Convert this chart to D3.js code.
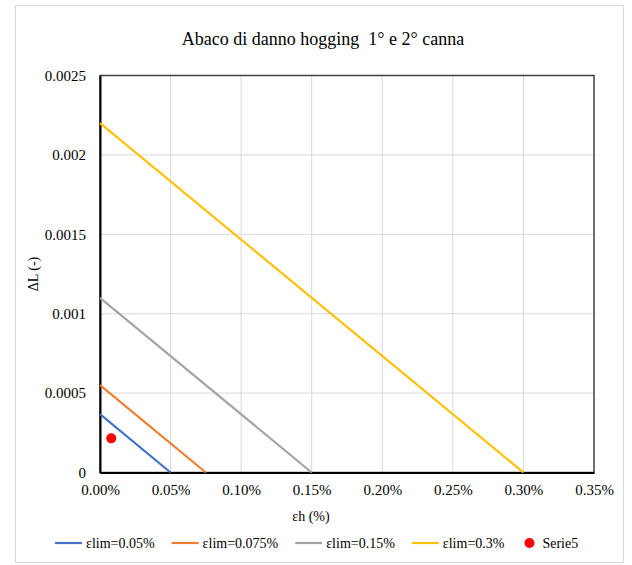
<!DOCTYPE html>
<html>
<head>
<meta charset="utf-8">
<script src="https://cdn.jsdelivr.net/npm/d3@7"></script>
<style>
  body { margin: 0; background: #fff; }
  svg text { font-family: "Liberation Serif", "Times New Roman", Times, "DejaVu Serif", serif; fill: #000; }
</style>
</head>
<body>
<svg width="632" height="565" font-family="Liberation Serif, DejaVu Serif, serif"></svg>
<script>
// chart data (x in %, y in -)
var seriesNames = ["εlim=0.05%", "εlim=0.075%", "εlim=0.15%", "εlim=0.3%"];
var seriesColors = ["#4472C4", "#ED7D31", "#A5A5A5", "#FFC000"];
var lim005 = [[0, 0.000367], [0.05, 0]];
var lim0075 = [[0, 0.00055], [0.075, 0]];
var lim015 = [[0, 0.0011], [0.15, 0]];
var lim03 = [[0, 0.0022], [0.3, 0]];
var serie5 = [[0.008, 0.000215]];
var xTicks = [0, 0.05, 0.10, 0.15, 0.20, 0.25, 0.30, 0.35];
var yTicks = [0, 0.0005, 0.001, 0.0015, 0.002, 0.0025];

var serifFont = "'Liberation Serif', 'Times New Roman', Times, 'DejaVu Serif', serif";
var svg = d3.select("svg");
var margin = { left: 100, right: 594, top: 75.5, bottom: 472.5 };

// outer chart border
svg.append("rect")
  .attr("x", 15.5).attr("y", 5.5)
  .attr("width", 608).attr("height", 557)
  .attr("fill", "#fff")
  .attr("stroke", "#d9d9d9")
  .attr("stroke-width", 1);

var x = d3.scaleLinear().domain([0, 0.35]).range([margin.left, margin.right]);
var y = d3.scaleLinear().domain([0, 0.0025]).range([margin.bottom, margin.top]);

// gridlines
svg.append("g").selectAll("line").data(xTicks.slice(1, -1)).enter()
  .append("line")
  .attr("x1", d => x(d)).attr("x2", d => x(d))
  .attr("y1", margin.top).attr("y2", margin.bottom)
  .attr("stroke", "#d9d9d9").attr("stroke-width", 1);
svg.append("g").selectAll("line").data(yTicks.slice(1, -1)).enter()
  .append("line")
  .attr("x1", margin.left).attr("x2", margin.right)
  .attr("y1", d => y(d)).attr("y2", d => y(d))
  .attr("stroke", "#d9d9d9").attr("stroke-width", 1);

// plot area frame
svg.append("rect")
  .attr("x", margin.left).attr("y", margin.top)
  .attr("width", margin.right - margin.left)
  .attr("height", margin.bottom - margin.top)
  .attr("fill", "none")
  .attr("stroke", "#404040")
  .attr("stroke-width", 1.5);

// axes
var xAxis = d3.axisBottom(x).tickValues(xTicks).tickSize(0).tickPadding(12)
  .tickFormat(d => d.toFixed(2) + "%");
var gx = svg.append("g").attr("transform", "translate(0," + margin.bottom + ")").call(xAxis)
  .attr("font-family", serifFont).attr("font-size", 15);
gx.select(".domain").attr("stroke", "#000").attr("stroke-width", 2);

var yAxis = d3.axisLeft(y).tickValues(yTicks).tickSize(0).tickPadding(14)
  .tickFormat(d => d === 0 ? "0" : String(+d.toPrecision(2)));
var gy = svg.append("g").attr("transform", "translate(" + margin.left + ",0)").call(yAxis)
  .attr("font-family", serifFont).attr("font-size", 15);
gy.select(".domain").attr("stroke", "#000").attr("stroke-width", 2);

// series lines
var line = d3.line().x(d => x(d[0])).y(d => y(d[1]));
var allSeries = [lim005, lim0075, lim015, lim03];
allSeries.forEach(function(s, i) {
  svg.append("path")
    .datum(s)
    .attr("d", line)
    .attr("fill", "none")
    .attr("stroke", seriesColors[i])
    .attr("stroke-width", 2.2);
});

svg.selectAll(".pt").data(serie5).enter()
  .append("circle")
  .attr("class", "pt")
  .attr("cx", d => x(d[0])).attr("cy", d => y(d[1]))
  .attr("r", 5).attr("fill", "#FF0000");

// titles
svg.append("text")
  .attr("x", 323).attr("y", 45)
  .attr("text-anchor", "middle")
  .attr("xml:space", "preserve")
  .style("font-size", "18px")
  .text("Abaco di danno hogging  1° e 2° canna");

svg.append("text")
  .attr("x", 311).attr("y", 521)
  .attr("text-anchor", "middle")
  .style("font-size", "14px")
  .text("εh (%)");

svg.append("text")
  .attr("transform", "translate(38," + y(0.00125) + ") rotate(-90)")
  .attr("text-anchor", "middle")
  .style("font-size", "14px")
  .text("ΔL (-)");

// legend
var legendItems = seriesNames.map((n, i) => ({ name: n, color: seriesColors[i], type: "line" }));
legendItems.push({ name: "Serie5", color: "#FF0000", type: "dot" });
var lg = svg.append("g");
var lx = 0;
legendItems.forEach(function(item) {
  var g = lg.append("g").attr("transform", "translate(" + lx + ",0)");
  if (item.type === "line") {
    g.append("line").attr("x1", 0).attr("x2", 27).attr("y1", 0).attr("y2", 0)
      .attr("stroke", item.color).attr("stroke-width", 2.2);
  } else {
    g.append("circle").attr("cx", 8).attr("cy", 0).attr("r", 5).attr("fill", item.color);
  }
  var t = g.append("text").attr("x", item.type === "line" ? 31 : 21).attr("y", 5)
    .style("font-size", "14px").text(item.name);
  lx += (item.type === "line" ? 31 : 21) + t.node().getComputedTextLength() + 17;
});
lg.attr("transform", "translate(55,543)");
</script>
</body>
</html>
